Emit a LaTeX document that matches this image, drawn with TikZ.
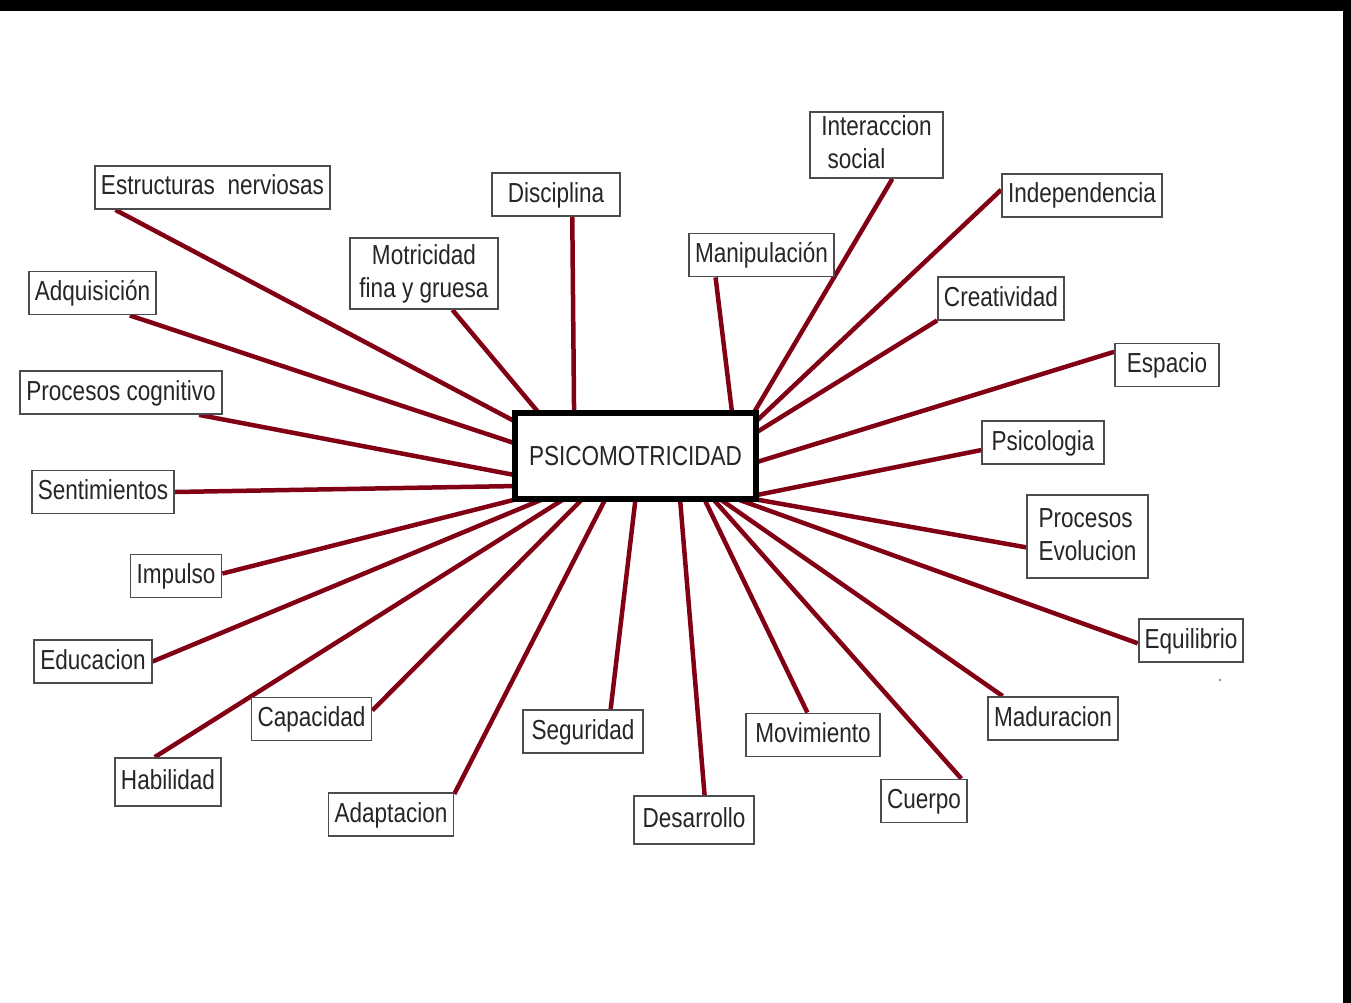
\documentclass[tikz,border=0pt]{standalone}
\usepackage{fontspec}
\setmainfont{Liberation Sans}[FakeStretch=0.82]
\usetikzlibrary{backgrounds}
\definecolor{linkred}{RGB}{130,0,20}
\newcommand{\mapfont}{\fontsize{27.5pt}{33pt}\selectfont}

\begin{document}
\begin{tikzpicture}[x=1pt,y=-1pt,font=\mapfont]
\tikzstyle{concept}=[rectangle,draw=black!70,line width=1.8pt,fill=white,text=black!85,inner xsep=6pt,inner ysep=8pt,text height=21pt,text depth=6pt]
\tikzstyle{twolines}=[concept,align=left,inner ysep=3pt,text height=54pt,text depth=6pt]
\tikzstyle{main}=[rectangle,draw=black,line width=6pt,outer sep=0pt,fill=white,text=black!85,minimum width=241pt,minimum height=86pt]
\tikzstyle{link}=[draw=linkred,line width=4.5pt]

\useasboundingbox (0,0) rectangle (1351,1003);
\fill[black] (0,0) rectangle (1351,11);
\fill[black] (1343,0) rectangle (1351,1003);

\node[main](psico) at (635.5,456) {PSICOMOTRICIDAD};

% left and top
\node[concept](estr) at (212.5,187.5) {Estructuras\ \ nerviosas};
\node[concept,minimum width=128pt](disc) at (556,194.5) {Disciplina};
\node[twolines,align=center,minimum width=148pt,minimum height=71pt](motr) at (424,273.5) {Motricidad\\fina y gruesa};
\node[concept](adq) at (92.5,293) {Adquisición};
\node[concept](proc) at (121,392.5) {Procesos cognitivo};
\node[concept](sent) at (103,492) {Sentimientos};
\node[concept](imp) at (176,576) {Impulso};
\node[concept](educ) at (93,661.5) {Educacion};
\node[concept](capa) at (311.5,719) {Capacidad};
\node[concept,minimum height=48pt](habi) at (168,782) {Habilidad};
\node[concept](adap) at (391,814.5) {Adaptacion};
\node[concept,minimum width=120pt](segu) at (583,731.5) {Seguridad};
\node[concept,minimum width=120pt,minimum height=48pt](desa) at (694,820) {Desarrollo};

% right and top
\node[twolines,minimum width=133pt](inter) at (876.5,145) {Interaccion\\\ social};
\node[concept](manip) at (761.5,255) {Manipulación};
\node[concept](indep) at (1082,195.5) {Independencia};
\node[concept](creat) at (1001,298.5) {Creatividad};
\node[concept,minimum width=104pt](esp) at (1167,365) {Espacio};
\node[concept,minimum width=122pt](psic) at (1043,442.5) {Psicologia};
\node[twolines,minimum width=121pt,minimum height=83pt](procev) at (1087.5,536.5) {Procesos\\Evolucion};
\node[concept](equi) at (1191,640.5) {Equilibrio};
\node[concept](madu) at (1053,718.5) {Maduracion};
\node[concept,minimum width=134pt](movi) at (813,735) {Movimiento};
\node[concept](cuer) at (924,801) {Cuerpo};

\fill[black!45] (1220,680) circle (1.3);

\begin{pgfonlayer}{background}
\path[link] (estr.193.7) edge (psico.164.2)
      (disc.306.7) edge (psico.145.9)
      (motr.308.3) edge (psico.156.6)
      (adq.329.5) edge (psico.174.8)
      (proc.344.4) edge (psico.189)
      (sent.east) edge (psico.194.9)
      (imp.3.9) edge (psico.200)
      (educ.east) edge (psico.205.4)
      (capa.8.1) edge (psico.219.3)
      (habi.118.4) edge (psico.211.4)
      (adap.18.6) edge (psico.235.5)
      (segu.39.8) edge (psico.270.7)
      (desa.67.4) edge (psico.316)
      (inter.295.2) edge (psico.20.3)
      (manip.206.3) edge (psico.24.9)
      (indep.176.1) edge (psico.16.6)
      (creat.199.2) edge (psico.11.3)
      (esp.166) edge (psico.357.1)
      (psic.187) edge (psico.342.1)
      (procev.190.8) edge (psico.340)
      (equi.183.7) edge (psico.337.6)
      (madu.156.7) edge (psico.333)
      (movi.104.7) edge (psico.328.3)
      (cuer.31.2) edge (psico.331.6);
\end{pgfonlayer}

\end{tikzpicture}
\end{document}
